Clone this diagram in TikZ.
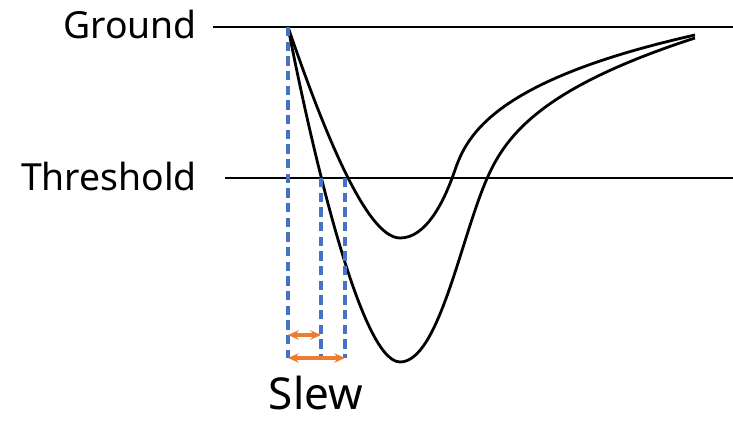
\documentclass[tikz,border=0pt]{standalone}
\usepackage{fontspec}
\setmainfont{Noto Sans}
\usetikzlibrary{arrows.meta}
\definecolor{slewbl}{HTML}{4472C4}
\definecolor{slewor}{HTML}{ED7D31}

\begin{document}
\begin{tikzpicture}[x=0.75pt,y=-0.75pt,>={Stealth[length=8pt,width=7pt]},
  lvl/.style={line width=1.6pt,black},
  wave/.style={line width=2.1pt,black},
  mk/.style={slewbl,line width=2.4pt,dash pattern=on 7pt off 4pt},
  ar/.style={<->,slewor,line width=2.4pt},
  lab/.style={font=\fontsize{28}{30}\selectfont,inner sep=0pt,anchor=east}]
\useasboundingbox (0,0) rectangle (733,421);
% levels
\coordinate (g0) at (213,27);  \coordinate (g1) at (733,27);
\coordinate (t0) at (225,178); \coordinate (t1) at (733,178);
\node[lab] (gnd) at (197,24) {Ground};
\node[lab] (thr) at (197,176) {Threshold};
\draw[lvl] (g0) -- (g1);
\draw[lvl] (t0) -- (t1);
% the two pulses
\draw[wave] (288,27) .. controls (310,140) and (360,362) .. (400,362)
  .. controls (440,362) and (462,230) .. (490,172)
  .. controls (510,130) and (550,85) .. (695,38);
\draw[wave] (288,27) .. controls (320,120) and (365,238) .. (400,238)
  .. controls (425,238) and (443,205) .. (455,170)
  .. controls (467,135) and (495,80) .. (695,35);
% crossing marks
\coordinate (s0) at (288,27);  \coordinate (s1) at (288,358);
\coordinate (c1) at (321,178); \coordinate (d1) at (321,358);
\coordinate (c2) at (345,178); \coordinate (d2) at (345,358);
\draw[mk] (s0) -- (s1);
\draw[mk] (c1) -- (d1);
\draw[mk] (c2) -- (d2);
\draw[ar] (288,335) -- (321,335);
\draw[ar] (s1) -- (d2);
\node[font=\fontsize{33}{35}\selectfont,inner sep=0pt,anchor=base] (slw) at (316,409) {Slew};
\end{tikzpicture}
\end{document}
